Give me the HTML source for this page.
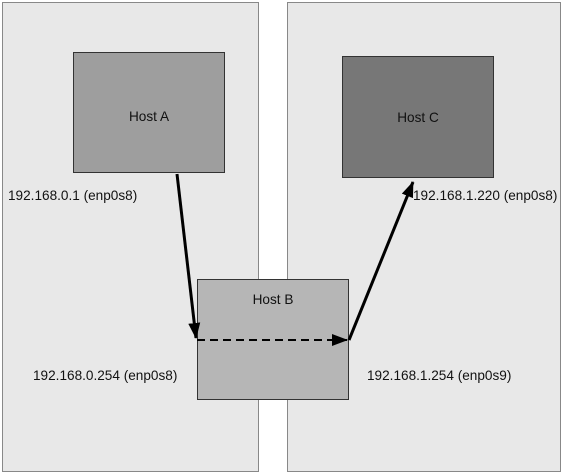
<!DOCTYPE html>
<html><head><style>
body{margin:0;width:562px;height:466px;background:#fff;position:relative;overflow:hidden;font-family:"Liberation Sans",sans-serif;font-size:13.6px;color:#111}
div{position:absolute;box-sizing:border-box}
.p{background:#e8e8e8;border:1px solid #888}
.b{border:1px solid #333;display:flex;justify-content:center}
.t{white-space:nowrap}
</style></head><body>
<div class="p" style="left:2px;top:2px;width:257px;height:470px"></div>
<div class="p" style="left:287px;top:2px;width:274px;height:470px"></div>
<div class="b" style="left:73px;top:52px;width:152px;height:121px;background:#9e9e9e;padding-top:56px">Host A</div>
<div class="b" style="left:342px;top:56px;width:152px;height:122px;background:#777;padding-top:53px">Host C</div>
<div class="b" style="left:197px;top:279px;width:152px;height:121px;background:#b6b6b6;padding-top:12px">Host B</div>
<div class="t" style="left:8px;top:188px">192.168.0.1 (enp0s8)</div>
<div class="t" style="left:413px;top:188px">192.168.1.220 (enp0s8)</div>
<div class="t" style="left:33px;top:368px">192.168.0.254 (enp0s8)</div>
<div class="t" style="left:367px;top:368px">192.168.1.254 (enp0s9)</div>
<svg width="562" height="466" style="position:absolute;left:0;top:0">
<defs><marker id="c" markerWidth="16" markerHeight="12" refX="15" refY="6" orient="auto" markerUnits="userSpaceOnUse"><path d="M0,0L16,6L0,12z" fill="#000"/></marker></defs>
<line x1="177" y1="174" x2="196" y2="338" stroke="#000" stroke-width="3" marker-end="url(#c)"/>
<line x1="197" y1="340" x2="347" y2="340" stroke="#000" stroke-width="2" stroke-dasharray="8,5" marker-end="url(#c)"/>
<line x1="349" y1="340" x2="413" y2="182" stroke="#000" stroke-width="3" marker-end="url(#c)"/>
</svg>
</body></html>
